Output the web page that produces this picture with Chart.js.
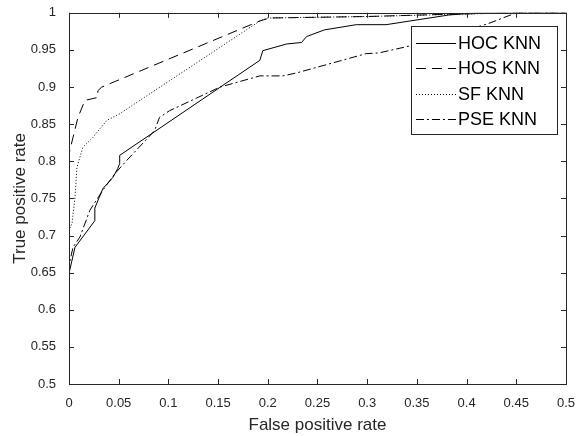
<!DOCTYPE html>
<html>
<head>
<meta charset="utf-8">
<script src="https://cdn.jsdelivr.net/npm/chart.js@4/dist/chart.umd.min.js"></script>
<style>
  html, body { margin: 0; padding: 0; background: #fff; }
  #wrap { width: 579px; height: 436px; position: relative; }
</style>
</head>
<body>
<div id="wrap"><canvas id="roc"></canvas></div>
<script>
// ROC points: [false positive rate, true positive rate]
const hocKnn = [
  [0, 0.5], [0, 0.649], [0.006, 0.684], [0.026, 0.72], [0.026, 0.737], [0.034, 0.763],
  [0.044, 0.778], [0.049, 0.79], [0.051, 0.797], [0.051, 0.808], [0.192, 0.936],
  [0.195, 0.949], [0.219, 0.958], [0.234, 0.96], [0.239, 0.968], [0.257, 0.977],
  [0.289, 0.984], [0.319, 0.984], [0.382, 0.997], [0.41, 1], [0.5, 1]
];
const hosKnn = [
  [0, 0.5], [0, 0.81], [0.004, 0.832], [0.009, 0.859], [0.016, 0.882], [0.029, 0.886],
  [0.029, 0.895], [0.033, 0.9], [0.192, 0.989], [0.202, 0.993], [0.3, 0.995],
  [0.38, 0.998], [0.45, 1], [0.5, 1]
];
const sfKnn = [
  [0, 0.5], [0, 0.707], [0.003, 0.716], [0.006, 0.751], [0.008, 0.792], [0.014, 0.819],
  [0.024, 0.832], [0.038, 0.855], [0.051, 0.864], [0.192, 0.989], [0.2, 0.993],
  [0.3, 0.995], [0.45, 1], [0.5, 1]
];
const pseKnn = [
  [0, 0.5], [0, 0.66], [0.004, 0.684], [0.011, 0.698], [0.021, 0.734], [0.034, 0.761],
  [0.046, 0.783], [0.058, 0.801], [0.086, 0.841], [0.091, 0.859], [0.101, 0.868],
  [0.152, 0.9], [0.192, 0.915], [0.215, 0.915], [0.229, 0.919], [0.299, 0.945],
  [0.312, 0.946], [0.345, 0.956], [0.421, 0.985], [0.45, 1], [0.5, 1]
];
const seriesLabels = ['HOC KNN', 'HOS KNN', 'SF KNN', 'PSE KNN'];
const xRange = [0, 0.5];
const yRange = [0.5, 1];
const tickStep = 0.05;

const textColor = '#262626';
const fontFamily = '"Liberation Sans", Arial, sans-serif';
const toXY = pts => pts.map(p => ({ x: p[0], y: p[1] }));
const shortNum = v => String(+v.toFixed(2));

// box + inward ticks on all four sides, like a matlab axes
const boxTicks = {
  id: 'boxTicks',
  afterDatasetsDraw(chart) {
    const { ctx, chartArea: a, scales } = chart;
    ctx.save();
    ctx.strokeStyle = textColor;
    ctx.lineWidth = 1;
    ctx.beginPath();
    scales.x.ticks.forEach(t => {
      const px = Math.round(scales.x.getPixelForValue(t.value)) + 0.5;
      ctx.moveTo(px, a.bottom); ctx.lineTo(px, a.bottom - 5);
      ctx.moveTo(px, a.top); ctx.lineTo(px, a.top + 5);
    });
    scales.y.ticks.forEach(t => {
      const py = Math.round(scales.y.getPixelForValue(t.value)) + 0.5;
      ctx.moveTo(a.left, py); ctx.lineTo(a.left + 5, py);
      ctx.moveTo(a.right, py); ctx.lineTo(a.right - 5, py);
    });
    ctx.stroke();
    ctx.strokeRect(Math.round(a.left) + 0.5, Math.round(a.top) + 0.5,
      Math.round(a.right - a.left), Math.round(a.bottom - a.top));
    ctx.restore();
  }
};

// boxed legend in the upper right corner of the plot
const boxLegend = {
  id: 'boxLegend',
  afterDraw(chart) {
    const { ctx, chartArea: a } = chart;
    const w = 146, h = 108, rowH = 25.5;
    const x0 = a.right - 9 - w, y0 = a.top + 13;
    ctx.save();
    ctx.fillStyle = '#fff';
    ctx.fillRect(x0, y0, w, h);
    ctx.strokeStyle = textColor;
    ctx.lineWidth = 1;
    ctx.strokeRect(Math.round(x0) + 0.5, Math.round(y0) + 0.5, w, h);
    ctx.font = '18px ' + fontFamily;
    ctx.textBaseline = 'middle';
    chart.data.datasets.forEach((ds, i) => {
      const cy = Math.round(y0 + 17 + i * rowH) + 0.5;
      ctx.strokeStyle = '#000';
      ctx.setLineDash(ds.borderDash || []);
      ctx.beginPath();
      ctx.moveTo(x0 + 5, cy); ctx.lineTo(x0 + 45, cy);
      ctx.stroke();
      ctx.setLineDash([]);
      ctx.fillStyle = '#000';
      ctx.fillText(ds.label, x0 + 47, cy + 1);
    });
    ctx.restore();
  }
};

const lineStyle = (label, pts, dash) => ({
  label: label,
  data: toXY(pts),
  borderColor: '#000',
  borderWidth: 1,
  borderDash: dash,
  pointRadius: 0,
  tension: 0,
  fill: false
});

new Chart(document.getElementById('roc'), {
  type: 'line',
  data: {
    datasets: [
      lineStyle(seriesLabels[0], hocKnn, []),
      lineStyle(seriesLabels[1], hosKnn, [10, 6]),
      lineStyle(seriesLabels[2], sfKnn, [1, 2]),
      lineStyle(seriesLabels[3], pseKnn, [8, 3, 2, 3])
    ]
  },
  options: {
    responsive: true,
    maintainAspectRatio: false,
    animation: false,
    layout: { padding: { top: 12, right: 5, left: 0, bottom: 0 } },
    plugins: {
      legend: { display: false },
      tooltip: { enabled: false }
    },
    scales: {
      x: {
        type: 'linear',
        min: xRange[0],
        max: xRange[1],
        afterFit: s => { s.height = 52; },
        grid: { display: false },
        border: { display: false },
        ticks: {
          stepSize: tickStep,
          padding: 4,
          color: textColor,
          maxRotation: 0,
          callback: v => shortNum(v),
          font: { family: fontFamily, size: 13 }
        },
        title: {
          display: true,
          text: 'False positive rate',
          color: textColor,
          padding: { top: 0, bottom: 0 },
          font: { family: fontFamily, size: 17 }
        }
      },
      y: {
        type: 'linear',
        min: yRange[0],
        max: yRange[1],
        afterFit: s => { s.width = 69; },
        grid: { display: false },
        border: { display: false },
        ticks: {
          stepSize: tickStep,
          padding: 5,
          color: textColor,
          callback: v => shortNum(v),
          font: { family: fontFamily, size: 13 }
        },
        title: {
          display: true,
          text: 'True positive rate',
          color: textColor,
          padding: { top: 10, bottom: 0 },
          font: { family: fontFamily, size: 17 }
        }
      }
    }
  },
  plugins: [boxTicks, boxLegend]
});
</script>
</body>
</html>
